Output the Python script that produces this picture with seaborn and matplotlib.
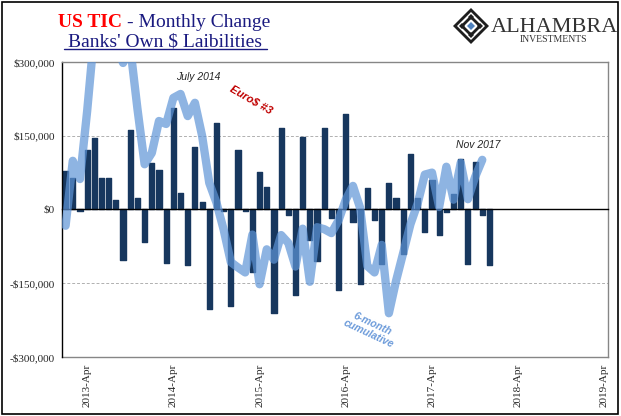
import numpy as np
import pandas as pd
import matplotlib
matplotlib.use("Agg")
import matplotlib.pyplot as plt
from matplotlib.patches import Polygon, Rectangle
import seaborn as sns

# monthly change in banks' own $ liabilities (thousands of $), Jan 2013 - Dec 2017
bar_vals = [78, 65, -4, 122, 145, 64, 64, 19, -103, 161,
            23, -66, 94, 80, -108, 207, 34, -112, 127, 16,
            -202, 175, -3, -197, 120, -4, -128, 77, 46, -210,
            165, -11, -173, 148, -63, -105, 165, -17, -163, 195,
            -26, -151, 43, -21, -110, 53, 23, -90, 112, 23,
            -45, 59, -51, -6, 31, 103, -111, 97, -11, -113]

# 6-month cumulative, Jan 2013 - Nov 2017 (thousands of $)
cum_vals = [-33, 99, 62, 200, 360, 420, 400, 340, 298, 330,
            205, 92, 115, 180, 174, 227, 235, 190, 217, 150,
            54, 14, -41, -107, -118, -128, -51, -152, -81, -102,
            -52, -68, -116, -39, -147, -36, -40, -48, -22, 20,
            48, 3, -115, -128, -72, -211, -145, -88, -30, 12,
            71, 75, 5, 87, 20, 95, 21, 66, 101]

months = pd.period_range("2013-01", periods=len(bar_vals), freq="M")
axis_months = pd.period_range("2013-01", "2019-04", freq="M")
year_labels = ["2013-Apr", "2014-Apr", "2015-Apr", "2016-Apr", "2017-Apr", "2018-Apr", "2019-Apr"]
y_ticks = [-300000, -150000, 0, 150000, 300000]
y_labels = ["-$300,000", "-$150,000", "$0", "$150,000", "$300,000"]

bars_df = pd.DataFrame({"idx": np.arange(len(bar_vals)), "val": np.array(bar_vals) * 1000})
cum_df = pd.DataFrame({"idx": np.arange(len(cum_vals)), "val": np.array(cum_vals) * 1000})

BAR = "#17375E"
LINE = "#5E94D7"
GRAY = "#868686"

sns.set_style("white")
plt.rcParams["font.family"] = ["Liberation Serif", "DejaVu Serif"]

fig = plt.figure(figsize=(6.21, 4.16), dpi=100)
ax = fig.add_axes([62 / 621, 1 - 357 / 416, 546 / 621, 295 / 416])

sns.barplot(data=bars_df, x="idx", y="val", native_scale=True, color=BAR,
            saturation=1, width=0.72, errorbar=None, ax=ax, zorder=2,
            edgecolor=BAR, linewidth=1.0)
for p in ax.patches:
    p.set_joinstyle("round")

sns.lineplot(data=cum_df, x="idx", y="val", color=LINE, lw=6, alpha=0.7,
             ax=ax, zorder=3, solid_joinstyle="round", solid_capstyle="round")

# x axis: ticks every 6 months on the zero line, year labels at the bottom
label_pos = [list(axis_months.strftime("%Y-%b")).index(s.replace("-", "-")) for s in
             [f"{l[:4]}-Apr" for l in year_labels]]
tick_pos = [i + 0.5 for i, m in enumerate(axis_months) if m.month in (4, 10)]
ax.set_xlim(-0.5, len(axis_months) - 0.5)
ax.set_ylim(-300000, 300000)

ax.spines["bottom"].set_position(("data", 0))
ax.spines["bottom"].set_color("black")
ax.spines["left"].set_color("black")
ax.spines["top"].set_color(GRAY)
ax.spines["right"].set_color(GRAY)
for s in ax.spines.values():
    s.set_linewidth(1.0)
    s.set_visible(True)
ax.set_xticks(tick_pos)
ax.tick_params(axis="x", direction="out", length=4, width=1, labelbottom=False, color="black")
ax.set_yticks(y_ticks, labels=y_labels)
ax.tick_params(axis="y", direction="out", length=3, width=1, labelsize=8, pad=2, color="black")
ax.set_xlabel("")
ax.set_ylabel("")
for yv in (150000, -150000):
    ax.axhline(yv, color="#B0B0B0", lw=0.7, ls=(0, (3, 2)), zorder=1)

sec = ax.secondary_xaxis("bottom")
sec.set_xticks(label_pos, labels=year_labels)
sec.tick_params(length=0, labelsize=8, rotation=90, pad=5)
sec.spines["bottom"].set_color(GRAY)
sec.spines["bottom"].set_linewidth(1.0)

# annotations
ax.text(18.4, 270000, "July 2014", family="Liberation Sans", style="italic",
        fontsize=7.5, ha="center", va="center")
ax.text(25.9, 225000, "Euro$ #3", family="Liberation Sans", style="italic",
        weight="bold", color="#C00000", fontsize=8, ha="center", va="center", rotation=-30)
ax.text(57.4, 131000, "Nov 2017", family="Liberation Sans", style="italic",
        fontsize=7.5, ha="center", va="center")
ax.text(42.4, -243000, "6-month\ncumulative", family="Liberation Sans", style="italic",
        weight="bold", color="#6C9BDA", fontsize=7.5, ha="center", va="center",
        rotation=-25, linespacing=1.0)

# overlay in pixel coordinates for title, logo and frame
ov = fig.add_axes([0, 0, 1, 1], zorder=5)
ov.set_xlim(0, 621)
ov.set_ylim(416, 0)
ov.axis("off")
ov.patch.set_visible(False)

NAVY = "#1A1A80"
ov.text(122, 27, "US TIC", color="#FF0000", weight="bold", fontsize=14,
        ha="right", va="baseline")
ov.text(127, 27, "- Monthly Change", color=NAVY, fontsize=14, ha="left", va="baseline")
ov.text(165.5, 46, "Banks' Own $ Laibilities", color=NAVY, fontsize=14,
        ha="center", va="baseline")
ov.plot([64, 267], [49, 49], color=NAVY, lw=1)

# logo
cx, cy = 471, 26
for r, c in [(18, "#1E1E1E"), (14, "white"), (11, "#1E1E1E"), (7, "white"), (4, "#4F81BD")]:
    ov.add_patch(Polygon([(cx, cy - r), (cx + r, cy), (cx, cy + r), (cx - r, cy)],
                         closed=True, facecolor=c, edgecolor="none"))
for dx, dy in [(-9, 0), (9, 0), (0, -9), (0, 9)]:
    r = 3
    ov.add_patch(Polygon([(cx + dx, cy + dy - r), (cx + dx + r, cy + dy),
                          (cx + dx, cy + dy + r), (cx + dx - r, cy + dy)],
                         closed=True, facecolor="#1E1E1E", edgecolor="none"))
ov.text(554, 31.5, "ALHAMBRA", color="#333333", fontsize=16, ha="center", va="baseline")
ov.text(554, 42, "INVESTMENTS", color="#333333", fontsize=7, ha="center", va="baseline")

ov.add_patch(Rectangle((2, 2), 616, 412, fill=False, edgecolor="black", lw=1.2))

fig.savefig("out.png", dpi=100)
